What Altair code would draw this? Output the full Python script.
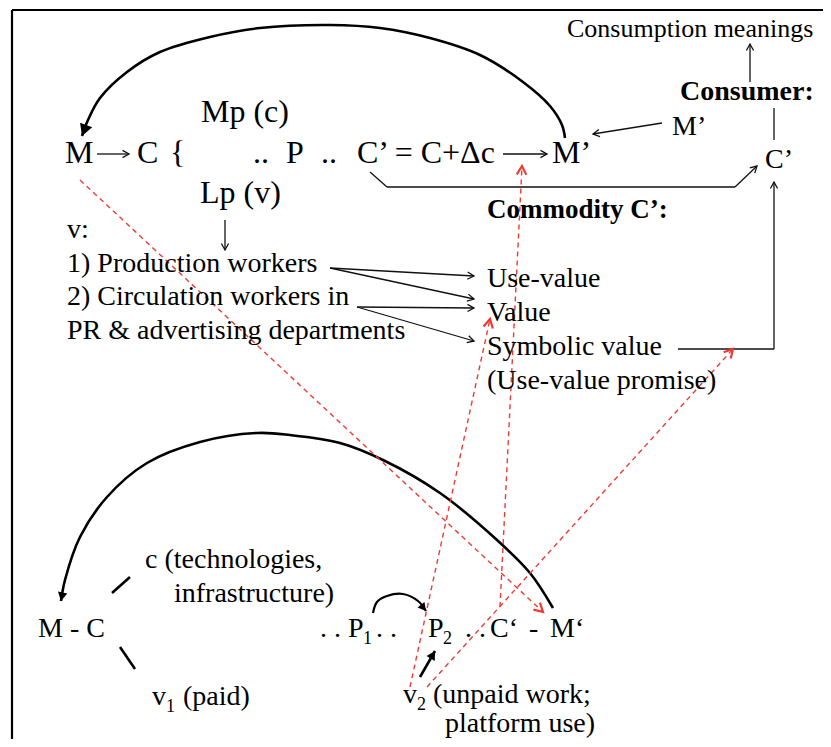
import math
import altair as alt
import pandas as pd

# ---------------- text (label, left x, baseline y, font size) ----------------
norm_label = ["M", "C", "{", "Mp (c)", "..", "P", "..", "C’ = C+Δc", "M’", "Lp (v)",
              "v:", "1) Production workers", "2) Circulation workers in",
              "PR & advertising departments",
              "Use-value", "Value", "Symbolic value", "(Use-value promise)",
              "Consumption meanings", "M’", "C’",
              "M - C", "c (technologies,", "infrastructure)",
              "v", "1", "(paid)",
              ". . P", "1", ". .", "P", "2", ". .", "C‘", "-", "M‘",
              "v", "2", "(unpaid work;", "platform use)"]
norm_x = [65, 137, 170, 201, 253, 286, 321, 357, 552, 200,
          67, 67, 67, 67,
          487, 487, 487, 487,
          567, 672, 765,
          38, 145, 174,
          152, 166, 183,
          320, 363, 376, 428, 443, 465, 490, 529, 550,
          403, 417, 433, 445]
norm_y = [163, 163, 163, 122, 163, 163, 163, 163, 163, 203,
          238, 272, 305, 339,
          287, 321, 355, 389,
          37, 135, 168,
          637, 568, 602,
          705, 712, 705,
          637, 644, 637, 637, 644, 637, 637, 637, 637,
          703, 710, 703, 732]
norm_size = [32, 32, 32, 32, 32, 32, 32, 32, 32, 32,
             28, 28, 28, 28,
             28, 28, 28, 28,
             26, 28, 28,
             28, 28, 28,
             28, 18, 28,
             28, 18, 28, 28, 18, 28, 28, 28, 28,
             28, 18, 28, 28]

bold_label = ["Commodity C’:", "Consumer:"]
bold_x = [487, 680]
bold_y = [218, 100]
bold_size = [27, 28]

# ---------------- thin black segments (x1, y1, x2, y2, arrowhead at end) ----------------
thin_x1 = [97, 503, 225, 330, 330, 357, 357, 370, 387, 735, 662, 750, 774, 678, 774]
thin_y1 = [154, 154, 220, 268, 268, 307, 307, 172, 187, 187, 123, 82, 108, 349, 349]
thin_x2 = [129, 547, 225, 474, 474, 474, 474, 387, 735, 757, 593, 750, 774, 774, 774]
thin_y2 = [154, 154, 250, 276, 299, 308, 341, 187, 187, 166, 134, 44, 140, 349, 182]
thin_head = [1, 1, 1, 1, 1, 1, 1, 0, 0, 1, 1, 1, 0, 0, 1]

# ---------------- thick black short strokes ----------------
thick_x1 = [112, 120, 420]
thick_y1 = [593, 647, 677]
thick_x2 = [130, 135, 435]
thick_y2 = [577, 669, 651]
thick_head = [0, 0, 1]

# ---------------- red dashed arrows ----------------
red_x1 = [80, 410, 500, 427]
red_y1 = [180, 687, 607, 687]
red_x2 = [543, 490, 522, 733]
red_y2 = [612, 319, 166, 349]

# ---------------- curved arrows (points along each curve) ----------------
top_x = [565, 562, 550, 523, 480, 430, 380, 330, 260, 210, 160, 127, 100, 88, 82]
top_y = [138, 125, 106, 82, 55, 38, 28, 25, 28, 37, 52, 72, 98, 120, 136]
bot_x = [553, 530, 497, 440, 383, 340, 290, 257, 200, 147, 107, 80, 65, 61]
bot_y = [608, 573, 540, 493, 460, 443, 435, 433, 442, 463, 497, 537, 580, 601]
small_x = [373, 377, 387, 403, 418, 426]
small_y = [613, 602, 596, 594, 601, 611]

# ---------------- frame ----------------
frame_x1 = [12, 12]
frame_y1 = [10, 10]
frame_x2 = [12, 831]
frame_y2 = [747, 10]

PLOT_W, PLOT_H = 815, 731


def ang(x1, y1, x2, y2):
    return math.degrees(math.atan2(x2 - x1, -(y2 - y1))) % 360


def X(f="x"):
    return alt.X(f"{f}:Q", scale=alt.Scale(domain=[8, 8 + PLOT_W], nice=False, zero=False), axis=None)


def Y(f="y"):
    return alt.Y(f"{f}:Q", scale=alt.Scale(domain=[8, 8 + PLOT_H], nice=False, zero=False, reverse=True), axis=None)


def seg_df(x1, y1, x2, y2):
    return pd.DataFrame({"x": x1, "y": y1, "x2": x2, "y2": y2})


def rules(df, **kw):
    return alt.Chart(df).mark_rule(**kw).encode(x=X(), y=Y(), x2=alt.X2("x2:Q"), y2=alt.Y2("y2:Q"))


# arrowhead tables
open_rows, filled_rows, red_rows = [], [], []
for a, b, c, d, h in zip(thin_x1, thin_y1, thin_x2, thin_y2, thin_head):
    if h:
        open_rows.append({"x": c, "y": d, "angle": ang(a, b, c, d), "s": 170})
for a, b, c, d, h in zip(thick_x1, thick_y1, thick_x2, thick_y2, thick_head):
    if h:
        filled_rows.append({"x": c, "y": d, "angle": ang(a, b, c, d), "s": 300})
for a, b, c, d in zip(red_x1, red_y1, red_x2, red_y2):
    red_rows.append({"x": c, "y": d, "angle": ang(a, b, c, d), "s": 300})
for xs, ys, s in [(top_x, top_y, 560), (bot_x, bot_y, 300), (small_x, small_y, 256)]:
    filled_rows.append({"x": xs[-1], "y": ys[-1], "angle": ang(xs[-2], ys[-2], xs[-1], ys[-1]), "s": s})

curve_rows = []
for name, xs, ys in [("top", top_x, top_y), ("bottom", bot_x, bot_y), ("small", small_x, small_y)]:
    for i, (a, b) in enumerate(zip(xs, ys)):
        curve_rows.append({"c": name, "i": i, "x": a, "y": b})
curves = pd.DataFrame(curve_rows)

FONT = "Liberation Serif"

frame = rules(seg_df(frame_x1, frame_y1, frame_x2, frame_y2), color="black", strokeWidth=2.2)
thin = rules(seg_df(thin_x1, thin_y1, thin_x2, thin_y2), color="#111111", strokeWidth=1.3)
thick = rules(seg_df(thick_x1, thick_y1, thick_x2, thick_y2), color="black", strokeWidth=2.6)
red = rules(seg_df(red_x1, red_y1, red_x2, red_y2), color="#ee3a34", strokeWidth=1.4, strokeDash=[5, 4])

big_curves = alt.Chart(curves[curves.c != "small"]).mark_line(
    interpolate="catmull-rom", color="black", strokeWidth=2.6
).encode(x=X(), y=Y(), detail="c:N", order="i:Q")
small_curve = alt.Chart(curves[curves.c == "small"]).mark_line(
    interpolate="catmull-rom", color="black", strokeWidth=2.2
).encode(x=X(), y=Y(), detail="c:N", order="i:Q")

OPEN_V = "M -0.55 1 L 0 0 L 0.55 1"
FILLED_V = "M 0 0 L 0.55 1 L -0.55 1 Z"


def heads(rows, shape, filled, color, sw):
    return alt.Chart(pd.DataFrame(rows)).mark_point(
        shape=shape, filled=filled, color=color, opacity=1, strokeWidth=sw
    ).encode(x=X(), y=Y(), angle=alt.Angle("angle:Q", scale=None), size=alt.Size("s:Q", scale=None))


open_heads = heads(open_rows, OPEN_V, False, "#111111", 1.3)
filled_heads = heads(filled_rows, FILLED_V, True, "black", 1)
red_heads = heads(red_rows, OPEN_V, False, "#ee3a34", 2.2)

norm_text = alt.Chart(pd.DataFrame({"t": norm_label, "x": norm_x, "y": norm_y, "s": norm_size})).mark_text(
    align="left", baseline="alphabetic", font=FONT, color="black"
).encode(x=X(), y=Y(), text="t:N", size=alt.Size("s:Q", scale=None))
bold_text = alt.Chart(pd.DataFrame({"t": bold_label, "x": bold_x, "y": bold_y, "s": bold_size})).mark_text(
    align="left", baseline="alphabetic", font=FONT, fontWeight="bold", color="black"
).encode(x=X(), y=Y(), text="t:N", size=alt.Size("s:Q", scale=None))

chart = alt.layer(
    frame, thin, thick, big_curves, small_curve, red, open_heads, filled_heads, red_heads,
    norm_text, bold_text
).properties(
    width=PLOT_W, height=PLOT_H, padding=0, autosize="none", background="white"
).configure_view(strokeWidth=0)

chart.save("out.html", embed_options={"renderer": "svg", "actions": False})
